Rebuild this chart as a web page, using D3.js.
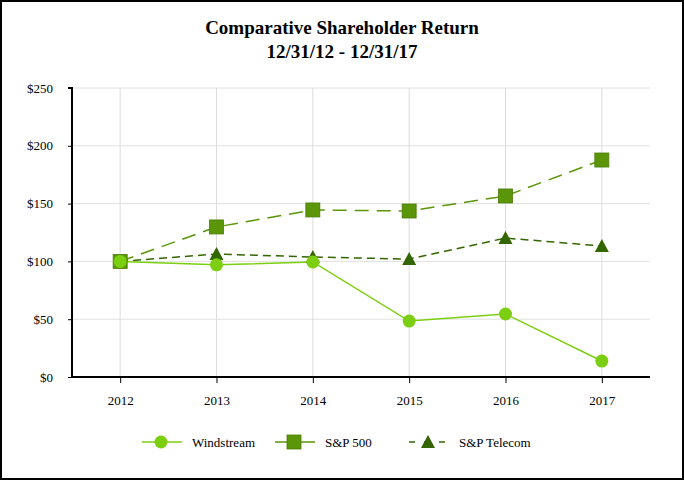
<!DOCTYPE html>
<html><head><meta charset="utf-8">
<script src="https://cdn.jsdelivr.net/npm/d3@7"></script>
<style>html,body{margin:0;padding:0;background:#fff;}svg{display:block;}</style>
</head><body>
<svg id="c" width="684" height="480"></svg>
<script>
const years = ["2012","2013","2014","2015","2016","2017"];
const windstream = [100, 97, 99.5, 48.4, 54.5, 13.8];
const sp500 = [100, 129.8, 144.5, 143.6, 156.6, 187.7];
const spTelecom = [100, 106.4, 103.8, 102, 120.2, 113.3];
const yTicks = [0, 50, 100, 150, 200, 250];
const seriesNames = ["Windstream", "S&P 500", "S&P Telecom"];

const svg = d3.select("#c");
const W = 684, H = 480;
const font = "'Liberation Serif','Times New Roman',serif";
svg.append("rect").attr("x",1).attr("y",1).attr("width",W-2).attr("height",H-2)
  .attr("fill","#fff").attr("stroke","#000").attr("stroke-width",2);

svg.append("text").attr("x",342).attr("y",34).attr("text-anchor","middle")
  .attr("font-family",font).attr("font-weight","bold").attr("font-size",19).text("Comparative Shareholder Return");
svg.append("text").attr("x",342).attr("y",58).attr("text-anchor","middle")
  .attr("font-family",font).attr("font-weight","bold").attr("font-size",19).text("12/31/12 - 12/31/17");

const L = 72, R = 650, T = 88, B = 377;
const x = d3.scalePoint().domain(years).range([L, R]).padding(0.5);
const y = d3.scaleLinear().domain([0, 250]).range([B, T]);

const g = svg.append("g");
// grid
g.selectAll(".hg").data(yTicks.slice(1)).join("line")
  .attr("x1",L).attr("x2",R).attr("y1",d=>y(d)).attr("y2",d=>y(d))
  .attr("stroke","#e0e0e0").attr("stroke-width",1);
g.selectAll(".vg").data(years).join("line")
  .attr("x1",d=>x(d)).attr("x2",d=>x(d)).attr("y1",T).attr("y2",B)
  .attr("stroke","#dcdcdc").attr("stroke-width",1);

// axes
const yAxis = d3.axisLeft(y).tickValues(yTicks).tickFormat(d=>"$"+d).tickSize(4).tickPadding(15);
const ya = svg.append("g").attr("transform",`translate(${L},0)`).call(yAxis);
ya.select(".domain").attr("stroke","#000").attr("stroke-width",2).attr("d",`M-4,${T}H0V${B}`);
ya.selectAll(".tick line").attr("stroke","#000");
ya.selectAll(".tick text").attr("font-family",font).attr("font-size",13).attr("fill","#000");

const xAxis = d3.axisBottom(x).tickSize(6).tickPadding(13);
const xa = svg.append("g").attr("transform",`translate(0,${B})`).call(xAxis);
xa.select(".domain").attr("stroke","#000").attr("stroke-width",2).attr("d",`M${L},0H${R}`);
xa.selectAll(".tick line").attr("stroke","#000");
xa.selectAll(".tick text").attr("font-family",font).attr("font-size",13).attr("fill","#000");

const cW = "#7ccf10", cS = "#5a9608", cT = "#336600";
const line = d3.line().x((d,i)=>x(years[i])).y(d=>y(d));

function markers(sel, type, color, cx, cy){
  if(type==="circle") sel.append("circle").attr("cx",cx).attr("cy",cy).attr("r",6.5).attr("fill",color);
  else if(type==="square") sel.append("rect").attr("x",cx-7).attr("y",cy-7).attr("width",14).attr("height",14).attr("fill",color).attr("stroke","#4a7c06").attr("stroke-width",0.8);
  else sel.append("path").attr("d",`M${cx},${cy-7}L${cx+7},${cy+6}L${cx-7},${cy+6}Z`).attr("fill",color);
}

const series = [
  {vals: spTelecom, color: cT, dash: "8,5", type:"tri"},
  {vals: sp500, color: cS, dash: "14,8", type:"square"},
  {vals: windstream, color: cW, dash: null, type:"circle"}
];
series.forEach(s=>{
  g.append("path").datum(s.vals).attr("d",line).attr("fill","none")
    .attr("stroke",s.color).attr("stroke-width",1.5).attr("stroke-dasharray",s.dash);
});
series.forEach(s=>{
  s.vals.forEach((v,i)=>markers(g, s.type, s.color, x(years[i]), y(v)));
});

// legend
const leg = svg.append("g");
const legItems = [
  {name: seriesNames[0], color:cW, dash:null, type:"circle", x0:142},
  {name: seriesNames[1], color:cS, dash:null, type:"square", x0:275},
  {name: seriesNames[2], color:cT, dash:"6,9", type:"tri", x0:409}
];
const ly = 442;
legItems.forEach(it=>{
  leg.append("line").attr("x1",it.x0).attr("x2",it.x0+40).attr("y1",ly).attr("y2",ly)
    .attr("stroke",it.color).attr("stroke-width",1.5).attr("stroke-dasharray",it.dash);
  markers(leg, it.type, it.color, it.x0+19, ly);
  leg.append("text").attr("x",it.x0+50).attr("y",ly+5).attr("font-family",font).attr("font-size",13).text(it.name);
});
</script>
</body></html>
